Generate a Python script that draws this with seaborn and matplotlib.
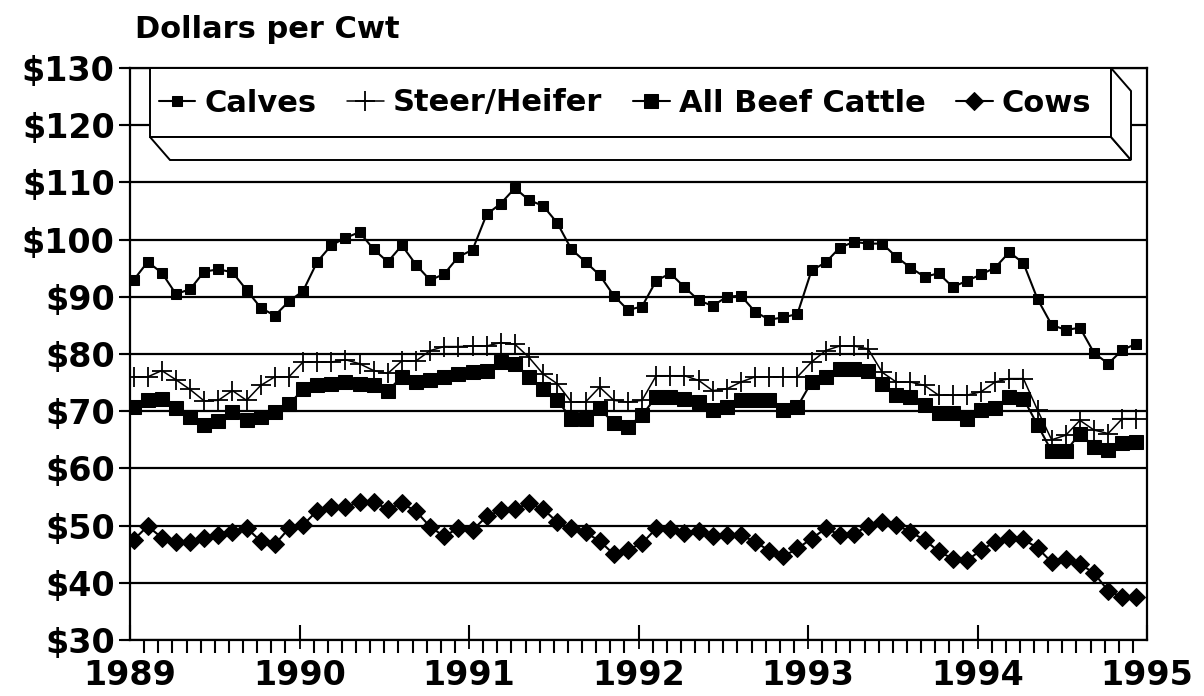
import numpy as np
import pandas as pd
import seaborn as sns
from matplotlib import pyplot as plt
from matplotlib.patches import Polygon
from matplotlib.ticker import FuncFormatter, MultipleLocator, FixedLocator

# monthly prices, Jan 1989 - Dec 1994, dollars per cwt
calves = [
    92.9, 96.1, 94.2, 90.5, 91.3, 94.4, 94.8, 94.3, 91.2, 88.1, 86.7, 89.2,
    91.0, 96.1, 99.0, 100.3, 101.3, 98.3, 96.1, 99.0, 95.6, 92.9, 94.0, 97.0,
    98.2, 104.4, 106.3, 109.0, 106.9, 105.9, 102.9, 98.3, 96.1, 93.8, 90.2, 87.7,
    88.3, 92.8, 94.1, 91.7, 89.4, 88.4, 90.0, 90.2, 87.4, 86.0, 86.4, 87.0,
    94.6, 96.0, 98.6, 99.6, 99.3, 99.3, 97.0, 95.1, 93.5, 94.1, 91.7, 92.8,
    93.9, 95.1, 97.8, 95.9, 89.6, 85.1, 84.2, 84.6, 80.2, 78.3, 80.7, 81.8,
]
steer_heifer = [
    76.0, 76.0, 77.1, 75.5, 73.8, 71.8, 71.9, 73.6, 71.9, 74.5, 76.0, 76.0,
    78.6, 78.6, 78.6, 79.0, 78.3, 77.1, 76.6, 78.8, 78.8, 80.6, 81.3, 81.3,
    81.4, 81.4, 82.0, 81.7, 79.4, 76.5, 74.8, 71.6, 71.6, 74.2, 71.9, 71.6,
    71.9, 76.2, 76.2, 76.2, 75.4, 73.6, 73.9, 75.1, 76.0, 76.0, 76.0, 76.0,
    78.6, 80.6, 81.4, 81.4, 80.9, 76.8, 75.1, 75.1, 74.5, 72.8, 72.8, 72.8,
    73.4, 75.1, 75.7, 75.7, 70.2, 65.0, 65.8, 68.4, 66.7, 66.1, 68.7, 68.7,
]
all_beef = [
    70.8, 71.9, 72.2, 70.5, 68.9, 67.6, 68.2, 69.9, 68.4, 68.9, 69.9, 71.2,
    73.8, 74.5, 74.8, 75.1, 74.8, 74.5, 73.6, 76.0, 75.1, 75.4, 76.0, 76.5,
    76.8, 77.1, 78.6, 78.3, 76.0, 73.9, 71.9, 68.7, 68.7, 70.5, 67.9, 67.3,
    69.3, 72.5, 72.5, 72.2, 71.6, 70.2, 70.8, 71.9, 71.9, 71.9, 70.2, 70.8,
    75.1, 76.0, 77.4, 77.4, 77.1, 74.8, 72.8, 72.5, 71.0, 69.6, 69.6, 68.7,
    70.2, 70.5, 72.5, 72.2, 67.6, 63.0, 63.0, 66.1, 63.8, 63.2, 64.4, 64.7,
]
cows = [
    47.5, 49.9, 47.9, 47.2, 47.2, 47.8, 48.4, 48.9, 49.6, 47.3, 46.7, 49.5,
    50.1, 52.6, 53.2, 53.3, 54.1, 54.1, 52.9, 53.9, 52.5, 49.8, 48.1, 49.6,
    49.2, 51.6, 52.7, 52.9, 53.9, 52.9, 50.6, 49.5, 48.8, 47.3, 45.0, 45.8,
    46.9, 49.5, 49.4, 48.7, 49.0, 48.1, 48.4, 48.3, 47.2, 45.6, 44.6, 46.0,
    47.7, 49.5, 48.4, 48.5, 50.0, 50.6, 50.1, 48.9, 47.5, 45.5, 44.2, 43.9,
    45.7, 47.2, 47.8, 47.6, 46.1, 43.6, 44.1, 43.3, 41.7, 38.6, 37.5, 37.6,
]
series_names = ['Calves', 'Steer/Heifer', 'All Beef Cattle', 'Cows']
year_ticks = [1989, 1990, 1991, 1992, 1993, 1994, 1995]

months = np.arange(len(calves))
t = 1989 + (months + 0.25) / 12
df = pd.concat([
    pd.DataFrame({'t': t, 'price': vals, 'series': name})
    for name, vals in zip(series_names, [calves, steer_heifer, all_beef, cows])
])

sns.set_style('white')
plt.rcParams['font.family'] = ['DejaVu Sans']
plt.rcParams['font.weight'] = 'bold'
for k in ['text.color', 'axes.labelcolor', 'xtick.color', 'ytick.color']:
    plt.rcParams[k] = 'black'

fig = plt.figure(figsize=(12.04, 6.96), dpi=100)
ax = fig.add_axes([130 / 1204, 1 - 640 / 696, 1017 / 1204, 572 / 696])

styles = {
    'Calves': dict(marker='s', markersize=6.5, linewidth=1.5),
    'Steer/Heifer': dict(marker='+', markersize=15, markeredgewidth=1.3, linewidth=1.1),
    'All Beef Cattle': dict(marker='s', markersize=10, linewidth=1.5),
    'Cows': dict(marker='D', markersize=9.5, linewidth=1.5),
}
for name in series_names:
    sns.lineplot(data=df[df['series'] == name], x='t', y='price', color='black',
                 label=name, ax=ax, zorder=4,
                 markeredgecolor='black', markerfacecolor='black', **styles[name])

ax.set_xlim(1989, 1995)
ax.set_ylim(30, 130)
ax.xaxis.set_major_locator(FixedLocator(year_ticks))
ax.xaxis.set_minor_locator(FixedLocator(list(1989 + np.arange(1, 72) / 12)))
ax.yaxis.set_major_locator(MultipleLocator(10))
ax.yaxis.set_major_formatter(FuncFormatter(lambda v, p: f'${v:.0f}'))
ax.grid(axis='y', color='black', linewidth=1.6)
ax.set_axisbelow(True)
for s in ax.spines.values():
    s.set_color('black')
    s.set_linewidth(1.6)
ax.tick_params(axis='x', which='major', direction='in', length=11, width=1.5,
               labelsize=24, pad=14, bottom=True)
ax.tick_params(axis='x', which='minor', direction='out', length=9, width=1.5,
               bottom=True, color='black')
ax.tick_params(axis='y', which='major', direction='out', length=8, width=1.5,
               labelsize=24, pad=3, left=True)
ax.set_xlabel('')
ax.set_ylabel('')

# month ticks hanging below the axis, in axis-blended coordinates
month_edges = 1989 + np.arange(1, 72) / 12
ax.vlines(month_edges, -0.016, 0, transform=ax.get_xaxis_transform(),
          colors='black', linewidth=1.3, clip_on=False, zorder=6)
ax.hlines(np.arange(30, 131, 10), -0.009, 0, transform=ax.get_yaxis_transform(),
          colors='black', linewidth=1.5, clip_on=False, zorder=6)

# 3D legend box
def px(pts):
    return [(x / 1204, 1 - y / 696) for x, y in pts]

faces = [
    [(150, 68), (1111, 68), (1111, 137), (150, 137)],
    [(150, 137), (1111, 137), (1131, 160), (170, 160)],
    [(1111, 68), (1131, 91), (1131, 160), (1111, 137)],
]
for f in faces:
    ax.add_patch(Polygon(px(f), closed=True, facecolor='white', edgecolor='black',
                         linewidth=1.4, transform=fig.transFigure, clip_on=False,
                         zorder=3))

leg = ax.legend(loc='center', bbox_to_anchor=((625 - 130) / 1017, 1 - (103 - 68) / 572),
                ncol=4, frameon=False, fontsize=22, handlelength=1.2,
                handletextpad=0.3, columnspacing=1.0)
leg.set_zorder(5)
for txt in leg.get_texts():
    txt.set_fontweight('bold')

fig.text(135 / 1204, 1 - 30 / 696, 'Dollars per Cwt', fontsize=22,
         fontweight='heavy', ha='left', va='center')

fig.savefig('out.png', dpi=100)
